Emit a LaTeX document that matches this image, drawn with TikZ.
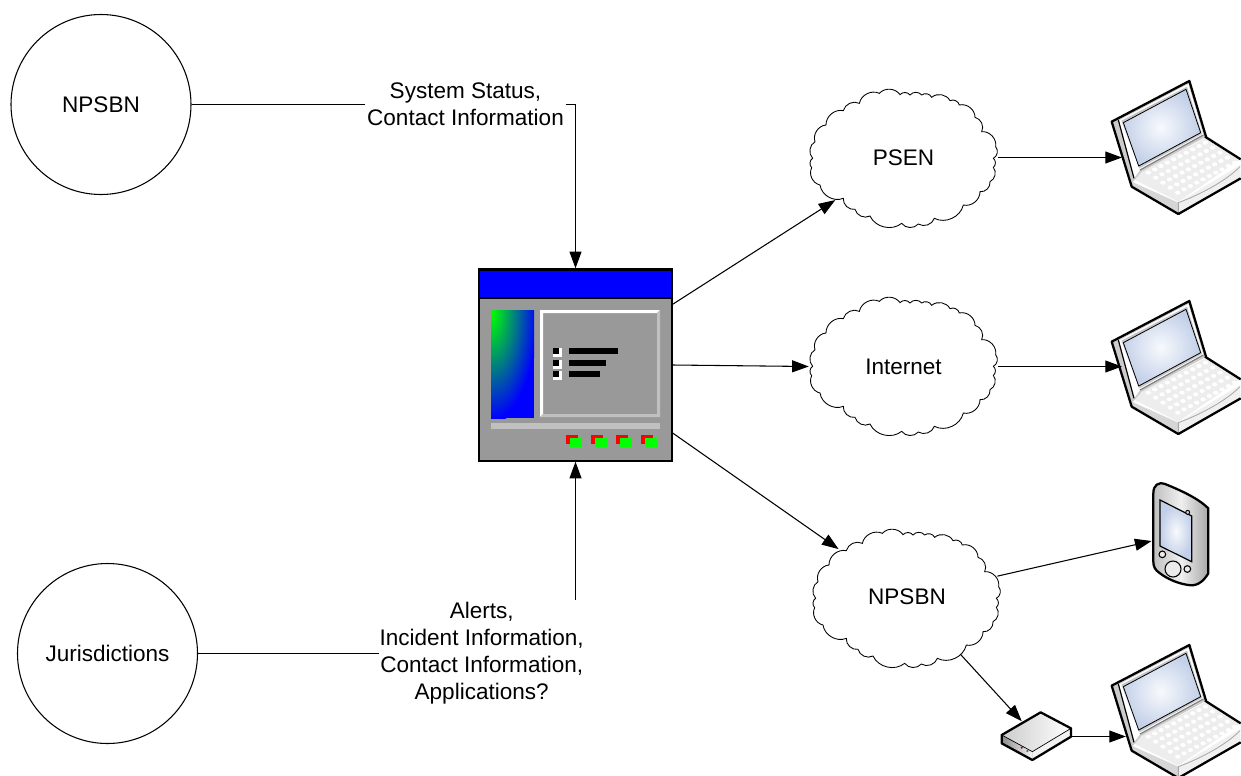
\documentclass[tikz,border=0pt]{standalone}
\usepackage{fontspec}
\setmainfont{Liberation Sans}
\usetikzlibrary{arrows.meta,shapes.geometric,positioning}
\pgfdeclareradialshading{greenblue}{\pgfpoint{0bp}{0bp}}{rgb(0bp)=(0,1,0);rgb(4bp)=(0,0.85,0.15);rgb(24bp)=(0,0,1);rgb(50bp)=(0,0,1)}
\pgfdeclareradialshading{screenglow}{\pgfpoint{0bp}{0bp}}{rgb(0bp)=(0.97,0.98,0.99);rgb(24bp)=(0.76,0.81,0.91);rgb(50bp)=(0.76,0.81,0.91)}
\definecolor{panelgrey}{HTML}{999999}
\definecolor{barlight}{HTML}{C0C0C0}
\definecolor{screenedge}{rgb}{0.76,0.81,0.91}
\tikzset{
  conn/.style={draw=black,line width=0.8pt},
  arr/.style={conn,-{Triangle[length=12.5pt,width=9pt]}},
  lbl/.style={font=\fontsize{16.9}{20.25}\selectfont,align=center,inner sep=0pt},
  actor/.style={circle,draw=black,line width=0.8pt,fill=white,minimum size=135pt,inner sep=0pt,font=\fontsize{16.9}{20}\selectfont},
  cloudnode/.style={ellipse,minimum width=141.75pt,minimum height=103.5pt,inner sep=0pt,font=\fontsize{16.9}{20}\selectfont},
  hit/.style={rectangle,inner sep=0pt},
  devline/.style={draw=black,line width=1.7pt,line join=round},
  pics/cloudshape/.style={code={
    \begin{scope}[x=0.25pt,y=-0.25pt]
    \draw[black,line width=0.65pt,fill=white] (130,325)
      foreach \px/\py in {60/285,35/233,38/205,45/155,78/105,130/62,178/40,238/10,300/14,330/15,365/15,395/22,450/32,478/45,525/82,545/125,587/170,580/205,580/232,570/275,540/305,490/345,403/385,355/402,305/400,210/378,165/358,130/325}
      { to[bend left=52] (\px,\py) } -- cycle;
    \end{scope}
  }},
  pics/laptopshape/.style={code={
    \begin{scope}[x=0.25pt,y=-0.25pt]
    % base
    \fill[white] (120,340) -- (345,200) -- (452,268) -- (452,325) -- (265,432) -- cycle;
    \fill[black!7] (155,305) -- (345,205) -- (450,268) -- (265,395) -- (125,325) -- cycle;
    \foreach \r in {0,...,4}{\foreach \c in {0,...,9}{
      \fill[white] ({175+\c*19+\r*22},{308-\c*10+\r*15}) ellipse (8 and 6);}}
    \fill[black!16] (125,335) -- (265,398) -- (265,432) -- (125,350) -- cycle;
    \fill[black!6] (265,398) -- (450,285) -- (452,325) -- (265,432) -- cycle;
    \draw[black!35,line width=0.6pt] (265,398) -- (265,432) (265,398) .. controls (340,370) and (410,330) .. (450,290);
    % lid
    \fill[black!20,line join=round] (65,155) -- (298,33) -- (348,200) -- (155,305) -- (125,340) -- cycle;
    \fill[white] (85,152) -- (295,42) -- (340,195) -- (150,300) -- (132,325) -- cycle;
    \fill[black!22] (94,152) -- (291,50) -- (336,192) -- (148,295) -- cycle;
    \fill[screenedge] (100,158) -- (288,58) -- (332,188) -- (146,288) -- cycle;
    \begin{scope}
      \clip (100,158) -- (288,58) -- (332,188) -- (146,288) -- cycle;
      \shade[shading=screenglow] (212,172) ellipse (125 and 125);
    \end{scope}
    \draw[black,line width=0.6pt] (100,158) -- (288,58) -- (332,188) -- (146,288) -- cycle;
    \draw[black!50,line width=0.9pt] (150,300) -- (340,195);
    % outline
    \draw[devline] (345,200) -- (452,268) (452,325) -- (265,432) -- (125,350) -- (65,155) -- (298,33) -- (348,200);
    \draw[black,line width=0.9pt] (85,150) -- (132,325);
    \end{scope}
  }},
  pics/pdashape/.style={code={
    \begin{scope}[x=0.25pt,y=-0.25pt]
    \path[left color=black!25,right color=black!35,middle color=black!6,draw=black,line width=1.7pt,line join=round]
      (490,70) .. controls (490,45) and (505,35) .. (525,42)
      .. controls (570,60) and (625,85) .. (655,115)
      -- (655,310) .. controls (640,335) and (620,350) .. (595,345)
      .. controls (560,340) and (530,325) .. (510,310)
      .. controls (495,300) and (490,290) .. (490,275) -- cycle;
    \fill[screenedge] (510,90) -- (605,138) -- (605,275) -- (510,228) -- cycle;
    \begin{scope}
      \clip (510,90) -- (605,138) -- (605,275) -- (510,228) -- cycle;
      \shade[shading=screenglow] (558,185) ellipse (50 and 85);
    \end{scope}
    \draw[black,line width=0.9pt] (510,90) -- (605,138) -- (605,275) -- (510,228) -- cycle;
    \draw[black,line width=0.8pt,fill=black!8] (517,253) circle (10);
    \draw[black,line width=0.8pt,fill=black!8] (549,297) circle (24);
    \draw[black,line width=0.8pt,fill=black!8] (592,297) circle (10);
    \draw[black,line width=0.7pt,fill=black!20] (593,127) circle (6);
    \end{scope}
  }},
  pics/routershape/.style={code={
    \begin{scope}[x=0.25pt,y=-0.25pt]
    \fill[left color=black!20,right color=white] (35,795) -- (152,727) -- (243,775) -- (127,845) -- cycle;
    \fill[left color=black!45,right color=black!4] (35,795) -- (127,845) -- (127,870) -- (35,820) -- cycle;
    \fill[black!5] (127,845) -- (243,775) -- (243,800) -- (127,870) -- cycle;
    \draw[black,line width=0.5pt] (35,795) -- (127,845) -- (243,775);
    \fill[red!75!black] (95,833) circle (3.5);
    \fill[black!60] (112,843) circle (3.5);
    \draw[devline] (35,795) -- (152,727) -- (243,775) -- (243,800) -- (127,870) -- (35,820) -- cycle;
    \end{scope}
  }}
}
\begin{document}
\begin{tikzpicture}[x=0.75pt,y=-0.75pt]
\useasboundingbox (0,0) rectangle (1241,775);
\fill[white] (0,0) rectangle (1241,775);

% actors
\node[actor] (npsbnA) at (101,104.5) {NPSBN};
\node[actor] (jur) at (107.5,653.5) {Jurisdictions};

% web portal
\node[rectangle,draw=black,line width=1.1pt,fill=panelgrey,minimum width=144.75pt,minimum height=144pt,inner sep=0pt] (web) at (575.5,365) {};
\fill[blue] (479,269) rectangle (672,298);
\draw[black,line width=1.6pt] (479,269.5) -- (672,269.5);
\draw[black,line width=0.8pt] (479,298) -- (672,298);
\draw[black,line width=0.9pt] (479,269) rectangle (672,461);
\fill[blue] (491,310) rectangle (534,418);
\begin{scope}
  \clip (491,310) rectangle (534,418);
  \shade[shading=greenblue] (491,312) ellipse (48 and 112);
\end{scope}
\fill[white] (540,417) -- (540,310) -- (660,310) -- (657,313) -- (543,313) -- (543,414) -- cycle;
\fill[barlight] (660,310) -- (660,417) -- (540,417) -- (543,414) -- (657,414) -- (657,313) -- cycle;
\foreach \y in {348,359.5,371}{
  \fill[white] (553,\y) rectangle ++(9,9);
  \fill[black] (553,\y) rectangle ++(6,6);
}
\fill[black] (569,348) rectangle (618,354);
\fill[black] (569,359.5) rectangle (606,365.5);
\fill[black] (569,371) rectangle (600,377);
\fill[barlight] (491,423) rectangle (660,429);
\foreach \x in {566,591,616,641}{
  \fill[red] (\x,435) rectangle ++(12,9);
  \fill[green] (\x+3.5,438) rectangle ++(12.5,9);
}

% clouds
\pic at (800,90) {cloudshape};
\pic at (800,298) {cloudshape};
\pic at (803,530) {cloudshape};
\node[cloudnode] (psen) at (903.5,157.5) {PSEN};
\node[cloudnode] (inet) at (903.5,366.5) {Internet};
\node[cloudnode] (npsbnB) at (907,597) {NPSBN};

% devices
\pic at (1090,70) {laptopshape};
\pic at (1090,290) {laptopshape};
\pic at (1090,634) {laptopshape};
\pic at (990,470) {pdashape};
\pic at (990,470) {routershape};
\node[hit,minimum width=89pt,minimum height=117pt] (lap1) at (1181.5,157.5) {};
\node[hit,minimum width=89pt,minimum height=117pt] (lap2) at (1181.5,366.5) {};
\node[hit,minimum width=86pt,minimum height=60pt] (lap3) at (1183.5,736.5) {};
\node[hit,minimum width=43pt,minimum height=78pt] (pda) at (1180.5,541) {};
\node[hit,minimum width=52.5pt,minimum height=22.5pt] (router) at (1037,736.5) {};

% labels
\node[lbl,minimum width=151pt,minimum height=38pt] (top) at (465.5,104.5) {System Status,\\Contact Information};
\node[lbl,minimum width=153pt,minimum height=78pt] (bot) at (481.7,653.5) {Alerts,\\Incident Information,\\Contact Information,\\Applications?};
\coordinate (botup) at (575.5,600);

% connectors
\draw[conn] (npsbnA.east) -- (top.west);
\draw[arr] (top.east) -| (web.north);
\draw[conn] (jur.east) -- (bot.west);
\draw[arr] (botup) -- (web.south);
\draw[arr,shorten >=-3.4pt] (web.32.3) -- (psen.212.5);
\draw[arr] (web.-0.9) -- (inet.west);
\draw[arr] (web.-35.6) -- (npsbnB.145.6);
\draw[arr] (psen.east) -- (lap1.west);
\draw[arr] (inet.east) -- (lap2.west);
\draw[arr] (npsbnB.13) -- (pda.west);
\draw[arr] (npsbnB.-47) -- (router.135);
\draw[arr] (router.east) -- (lap3.west);
\end{tikzpicture}
\end{document}
